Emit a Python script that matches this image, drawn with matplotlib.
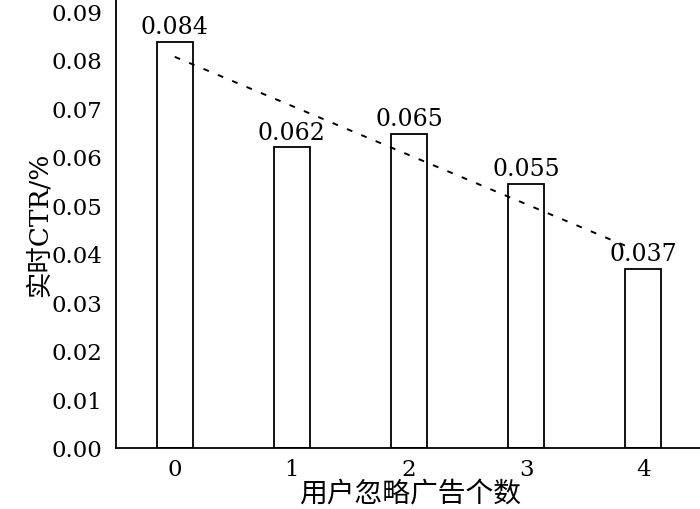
import numpy as np
import matplotlib.pyplot as plt

plt.rcParams['font.family'] = ['DejaVu Serif', 'Noto Sans CJK SC']

ignored = [0, 1, 2, 3, 4]
ctr = [0.0837, 0.0620, 0.0647, 0.0544, 0.0369]
labels = ['0.084', '0.062', '0.065', '0.055', '0.037']
yticks = [0.00, 0.01, 0.02, 0.03, 0.04, 0.05, 0.06, 0.07, 0.08, 0.09]

fig = plt.figure(figsize=(7, 5.1), dpi=100)
ax = fig.add_axes([0.166, 0.12, 0.84, 0.88])

ax.bar(ignored, ctr, width=0.31, color='white', edgecolor='black', linewidth=1.3, zorder=2)

# linear trend line
k, b = np.polyfit(ignored, ctr, 1)
xs = np.array([0, 3.9])
ax.plot(xs, k * xs + b, color='black', linestyle=(0, (3, 5)), linewidth=1.4, zorder=3)

for x, y, t in zip(ignored, ctr, labels):
    ax.text(x, y + 0.0007, t, ha='center', va='bottom', fontsize=17, zorder=4)

ax.set_xlim(-0.5, 4.52)
ax.set_ylim(0, 0.0925)
ax.set_xticks(ignored)
ax.set_yticks(yticks)
ax.set_yticklabels(['%.2f' % v for v in yticks])
ax.tick_params(length=0, labelsize=16.5)
ax.tick_params(axis='y', pad=10)
ax.tick_params(axis='x', pad=7)
ax.spines['top'].set_visible(False)
ax.spines['right'].set_visible(False)
ax.spines['left'].set_linewidth(1.3)
ax.spines['bottom'].set_linewidth(1.3)
ax.set_xlabel('用户忽略广告个数', fontsize=20, labelpad=1)
ax.set_ylabel('实时CTR/%', fontsize=19, labelpad=0)

plt.savefig('out.png')
